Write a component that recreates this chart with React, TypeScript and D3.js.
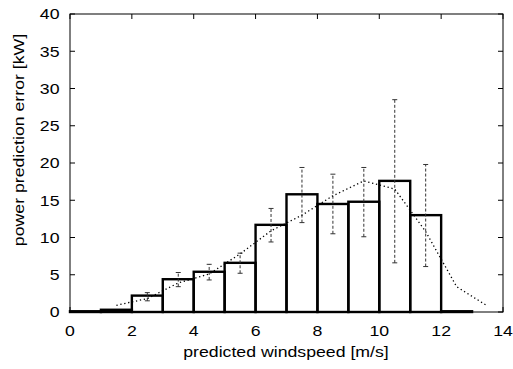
import React from "react";
import * as d3 from "d3";

const binStarts = [0, 1, 2, 3, 4, 5, 6, 7, 8, 9, 10, 11, 12];
const binValues = [0.1, 0.3, 2.2, 4.4, 5.4, 6.6, 11.7, 15.8, 14.5, 14.8, 17.6, 13.0, 0.1];
const errCenters = [2.5, 3.5, 4.5, 5.5, 6.5, 7.5, 8.5, 9.5, 10.5, 11.5];
const errLow = [1.5, 3.4, 4.3, 5.2, 9.4, 12.0, 10.5, 10.1, 6.6, 6.1];
const errHigh = [2.6, 5.3, 6.4, 7.9, 13.9, 19.4, 18.5, 19.4, 28.5, 19.8];
const lineX = [1.5, 2.5, 3.5, 4.5, 5.5, 6.5, 7.5, 8.5, 9.5, 10.5, 11.5, 12.5, 13.5];
const lineY = [0.9, 1.8, 3.9, 5.1, 7.8, 10.9, 13.0, 15.6, 17.6, 16.5, 10.8, 3.4, 0.8];
const xTicks = [0, 2, 4, 6, 8, 10, 12, 14];
const yTicks = [0, 5, 10, 15, 20, 25, 30, 35, 40];

export default function App() {
  const W = 513, H = 369;
  const L = 70, R = 503, T = 14, B = 312;
  const x = d3.scaleLinear().domain([0, 14]).range([L, R]);
  const y = d3.scaleLinear().domain([0, 40]).range([B, T]);
  const line = d3.line<number>().x((_, i) => x(lineX[i])).y((d) => y(d));
  const font = "Liberation Sans, Arial, sans-serif";
  const sx = 1.18;
  return (
    <svg width={W} height={H} style={{ position: "absolute", left: 0, top: 0 }}>
      <rect x={0} y={0} width={W} height={H} fill="white" />
      {binStarts.map((s, i) => (
        <rect key={i} x={x(s)} y={y(binValues[i])} width={x(s + 1) - x(s)} height={y(0) - y(binValues[i])}
          fill="none" stroke="black" strokeWidth={2.4} />
      ))}
      {errCenters.map((c, i) => (
        <g key={i} stroke="#333" strokeWidth={1}>
          <line x1={x(c)} x2={x(c)} y1={y(errLow[i])} y2={y(errHigh[i])} strokeDasharray="3,2" />
          <line x1={x(c) - 2.5} x2={x(c) + 2.5} y1={y(errLow[i])} y2={y(errLow[i])} />
          <line x1={x(c) - 2.5} x2={x(c) + 2.5} y1={y(errHigh[i])} y2={y(errHigh[i])} />
        </g>
      ))}
      <path d={line(lineY) || ""} fill="none" stroke="black" strokeWidth={1.3} strokeDasharray="1.3,2.7" />
      <rect x={L} y={T} width={R - L} height={B - T} fill="none" stroke="black" strokeWidth={1} />
      {xTicks.map((t) => (
        <g key={t}>
          <line x1={x(t)} x2={x(t)} y1={B} y2={B - 5} stroke="black" />
          <line x1={x(t)} x2={x(t)} y1={T} y2={T + 5} stroke="black" />
          <text transform={`translate(${x(t)},336) scale(${sx},1)`} textAnchor="middle" fontFamily={font} fontSize={15}>{t}</text>
        </g>
      ))}
      {yTicks.map((t) => (
        <g key={t}>
          <line x1={L} x2={L + 5} y1={y(t)} y2={y(t)} stroke="black" />
          <line x1={R} x2={R - 5} y1={y(t)} y2={y(t)} stroke="black" />
          <text transform={`translate(59.5,${y(t) + 5.4}) scale(${sx},1)`} textAnchor="end" fontFamily={font} fontSize={15}>{t}</text>
        </g>
      ))}
      <text transform={`translate(286,357) scale(${sx},1)`} textAnchor="middle" fontFamily={font} fontSize={15}>predicted windspeed [m/s]</text>
      <text transform={`translate(24,140) rotate(-90) scale(${sx},1)`} textAnchor="middle" fontFamily={font} fontSize={15}>power prediction error [kW]</text>
    </svg>
  );
}
